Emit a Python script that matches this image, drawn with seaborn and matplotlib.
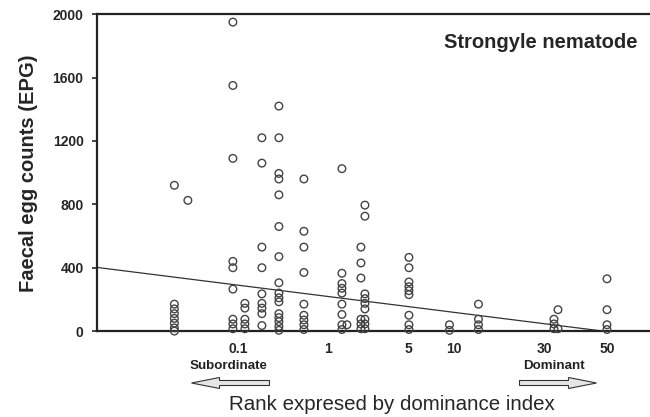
import numpy as np
import pandas as pd
import matplotlib
matplotlib.use("Agg")
import matplotlib.pyplot as plt
import seaborn as sns
from matplotlib.patches import FancyArrow

# ---- data ----
# x = position of each individual along the dominance rank axis (arbitrary rank units)
col_pos = [7.75, 9.1, 13.6, 14.8, 16.5, 18.2, 20.7, 24.5, 25.0,
           26.4, 26.8, 31.2, 35.25, 38.15, 45.7, 46.1, 51.0]
col_epg = [
    [920, 170, 140, 110, 80, 50, 20, 0],
    [825],
    [1950, 1550, 1090, 440, 400, 265, 75, 45, 15],
    [175, 145, 75, 45, 15],
    [1220, 1060, 530, 400, 235, 175, 145, 110, 35],
    [1420, 1220, 995, 960, 860, 660, 470, 305, 240, 210, 185, 110, 85, 60, 30, 5],
    [960, 630, 530, 370, 170, 100, 70, 40, 10],
    [1025, 365, 300, 270, 240, 170, 105, 40, 10],
    [40],
    [530, 430, 335, 75, 45, 15],
    [795, 725, 235, 205, 175, 140, 75, 45, 15],
    [465, 400, 310, 280, 255, 230, 100, 40, 10],
    [40, 5],
    [170, 75, 40, 10],
    [75, 45, 15],
    [135, 15],
    [330, 135, 40, 10],
]
trend_x = [0.0, 50.6]
trend_y = [402, 0]
tick_pos = [14.1, 23.15, 31.2, 35.7, 44.7, 51.0]
tick_labels = ["0.1", "1", "5", "10", "30", "50"]
y_ticks = [0, 400, 800, 1200, 1600, 2000]

df = pd.DataFrame({
    "rank": [p for p, vals in zip(col_pos, col_epg) for _ in vals],
    "epg": [v for vals in col_epg for v in vals],
})
trend = pd.DataFrame({"rank": trend_x, "epg": trend_y})

sns.set_style("white")
plt.rcParams["font.family"] = ["Liberation Sans", "DejaVu Sans"]

fig = plt.figure(figsize=(6.5, 4.17), dpi=100)
ax = fig.add_axes([0.149, 0.206, 0.851, 0.760])

sns.scatterplot(data=df, x="rank", y="epg", ax=ax, marker="o", s=30,
                facecolor="none", edgecolor="#444444", linewidth=1.0,
                clip_on=False, zorder=3)
sns.lineplot(data=trend, x="rank", y="epg", ax=ax, color="#333333",
             linewidth=0.9, zorder=2)

ax.set_xlim(0, 55.3)
ax.set_ylim(0, 2000)
ax.set_xticks(tick_pos)
ax.set_xticklabels(tick_labels, fontsize=10, fontweight="bold")
ax.set_yticks(y_ticks)
ax.set_yticklabels([str(v) for v in y_ticks], fontsize=10, fontweight="bold")
ax.tick_params(axis="x", length=0, pad=8)
ax.tick_params(axis="y", direction="out", length=3.6, width=1.2, pad=6, left=True)
for s in ["left", "bottom", "top"]:
    ax.spines[s].set_linewidth(1.6)
    ax.spines[s].set_color("#222222")
ax.spines["right"].set_visible(False)
ax.set_xlabel("")
ax.set_ylabel("")

W, H = 650.0, 417.0
def fx(px): return px / W
def fy(py): return (H - py) / H

fig.text(fx(29), fy(173), "Faecal egg counts (EPG)", rotation=90, ha="center",
         va="center", fontsize=14.5, fontweight="bold")
fig.text(fx(638), fy(42), "Strongyle nematode", ha="right", va="center",
         fontsize=14.5, fontweight="bold")
fig.text(fx(228), fy(366), "Subordinate", ha="center", va="center",
         fontsize=9.6, fontweight="bold", color="#222222")
fig.text(fx(554), fy(366), "Dominant", ha="center", va="center",
         fontsize=9.6, fontweight="bold", color="#222222")
fig.text(fx(392), fy(405), "Rank expresed by dominance index", ha="center",
         va="center", fontsize=14.8)

arrow_kw = dict(width=5 / H, head_width=11 / H, head_length=28 / W,
                length_includes_head=True, facecolor="#e6e6e6",
                edgecolor="#333333", linewidth=0.8, transform=fig.transFigure)
fig.patches.append(FancyArrow(fx(269.5), fy(383), -(269.5 - 191.5) / W, 0, **arrow_kw))
fig.patches.append(FancyArrow(fx(519.5), fy(383), (596.5 - 519.5) / W, 0, **arrow_kw))

fig.savefig("out.png", dpi=100)
